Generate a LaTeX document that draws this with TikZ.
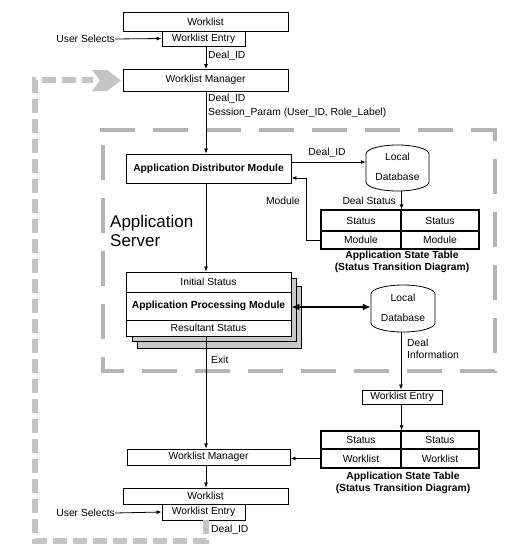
\documentclass[tikz,border=0pt]{standalone}
\usepackage{fontspec}
\setmainfont{Liberation Sans}
\usetikzlibrary{arrows.meta,calc}
\definecolor{dgray}{HTML}{B4B4B4}
\definecolor{lgray}{HTML}{C4C4C4}
\definecolor{sgray}{HTML}{C8C8C8}
\begin{document}
\begin{tikzpicture}[x=1pt,y=-1pt,
  txt/.style={font=\fontsize{10.3}{12}\selectfont, inner sep=0pt},
  btxt/.style={font=\fontsize{10.3}{12}\selectfont\bfseries, inner sep=0pt},
  box/.style={draw, line width=0.9pt, fill=white, inner sep=0pt, font=\fontsize{10.3}{12}\selectfont},
  cell/.style={draw, line width=1.2pt, fill=white, inner sep=0pt, font=\fontsize{10.3}{12}\selectfont},
  arr/.style={line width=0.8pt, -{Latex[length=5pt,width=4pt]}},
  ln/.style={line width=0.8pt},
  dbshape/.style={draw, line width=0.8pt, fill=white}
]
\useasboundingbox (0,0) rectangle (511,551);
\coordinate (xl) at (206,0);

% application server dashed frame
\draw[dgray, line width=4pt, dash pattern=on 35pt off 18pt] (100,130) -- (495,130) -- (495,371) -- (103,371) -- (103,130);

% top worklist
\node[box, minimum width=165, minimum height=19] (wl1) at (205.5,21.5) {Worklist};
\node[box, minimum width=83, minimum height=15] (we1) at (203.5,38.5) {Worklist Entry};
\node[txt, anchor=east] (us1) at (115,39) {User Selects};
\draw[arr] (us1.east) -- (we1.west);
\draw[arr] (we1.south -| xl) -- (206,69);
\node[txt, anchor=west] (did1) at (208,56) {Deal\_ID};

\node[box, minimum width=165, minimum height=22] (wm1) at (205.5,80) {Worklist Manager};
\node[txt, anchor=west] (did2) at (208,99) {Deal\_ID};
\node[txt, anchor=west] (sp) at (208,113) {Session\_Param (User\_ID, Role\_Label)};

% ADM
\node[box, font=\fontsize{10.3}{12}\selectfont\bfseries, minimum width=165, minimum height=29] (adm) at (208.5,168.5) {Application Distributor Module};
\draw[arr] (wm1.south -| xl) -- (adm.north -| xl);

% DB1
\node[minimum width=63, minimum height=46, inner sep=0pt] (db1) at (397.5,168) {};
\draw[dbshape] (366,154) arc[start angle=180, end angle=360, x radius=31.5, y radius=9] -- (429,182) arc[start angle=0, end angle=180, x radius=31.5, y radius=9] -- cycle;
\node[txt] at (397.5,157) {Local};
\node[txt] at (397.5,177) {Database};

\draw[arr] ([yshift=6.5pt]adm.east) -- ([yshift=6.5pt]adm.east -| db1.west);
\node[txt] (did3) at (327,153) {Deal\_ID};

% Table 1
\node[cell, minimum width=80, minimum height=21] (t1a) at (361,220.5) {Status};
\node[cell, minimum width=78, minimum height=21] (t1b) at (440,220.5) {Status};
\node[cell, minimum width=80, minimum height=18] (t1c) at (361,240) {Module};
\node[cell, minimum width=78, minimum height=18] (t1d) at (440,240) {Module};
\draw[arr] (db1.south -| t1a.north east) -- (t1a.north east);
\node[txt, anchor=east] (dst) at (396,201) {Deal Status};
\node[btxt] (cap1a) at (402,256) {Application State Table};
\node[btxt] (cap1b) at (402,268) {(Status Transition Diagram)};

\coordinate (mx) at (306,178);
\draw[arr] (t1c.west) -| (mx) -- ([yshift=-9.5pt]adm.east);
\node[txt] (modl) at (283,201) {Module};

% Application Server label
\node[txt, font=\fontsize{17}{20}\selectfont, anchor=west] (as1) at (110,223) {Application};
\node[txt, font=\fontsize{17}{20}\selectfont, anchor=west] (as2) at (110,241) {Server};

% APM stack
\draw[line width=0.9pt, fill=sgray] (137,286) rectangle (301,348);
\draw[line width=0.9pt, fill=sgray] (132,278) rectangle (296,341);
\node[box, minimum width=165, minimum height=20] (ini) at (208.5,282) {Initial Status};
\node[box, font=\fontsize{10.3}{12}\selectfont\bfseries, minimum width=165, minimum height=28] (apm) at (208.5,306) {Application Processing Module};
\node[box, minimum width=165, minimum height=16] (res) at (208.5,328) {Resultant Status};
\draw[arr] (adm.south -| xl) -- (ini.north -| xl);

% DB2
\node[minimum width=64, minimum height=47, inner sep=0pt] (db2) at (403,308.5) {};
\draw[dbshape] (371,294) arc[start angle=180, end angle=360, x radius=32, y radius=9] -- (435,323) arc[start angle=0, end angle=180, x radius=32, y radius=9] -- cycle;
\node[txt] at (403,298) {Local};
\node[txt] at (403,318) {Database};
\draw[line width=2.4pt, {Latex[length=8pt,width=7pt]}-{Latex[length=8pt,width=7pt]}] ([yshift=-1pt]apm.east) -- ([yshift=-1pt]apm.east -| db2.west);

\node[txt, anchor=west] (exit) at (211,360) {Exit};
\node[txt, anchor=west] (dinf1) at (407,343) {Deal};
\node[txt, anchor=west] (dinf2) at (407,355) {Information};

% right worklist entry
\node[box, minimum width=80, minimum height=14] (we3) at (402,397) {Worklist Entry};
\draw[arr] (db2.south -| 401,0) -- (we3.north -| 401,0);

% Table 2
\node[cell, minimum width=80, minimum height=18] (t2a) at (361,440) {Status};
\node[cell, minimum width=78, minimum height=18] (t2b) at (440,440) {Status};
\node[cell, minimum width=80, minimum height=19] (t2c) at (361,458.5) {Worklist};
\node[cell, minimum width=78, minimum height=19] (t2d) at (440,458.5) {Worklist};
\draw[arr] (we3.south -| t2a.north east) -- (t2a.north east);
\node[btxt] (cap2a) at (403,477) {Application State Table};
\node[btxt] (cap2b) at (403,489) {(Status Transition Diagram)};

% WM2
\node[box, minimum width=163, minimum height=16] (wm2) at (208.5,457) {Worklist Manager};
\draw[arr] (res.south -| xl) -- (wm2.north -| xl);
\draw[arr] (t2c.west) -- (t2c.west -| wm2.east);

\node[box, minimum width=165, minimum height=16] (wl2) at (205.5,496) {Worklist};
\node[box, minimum width=83, minimum height=16] (we2) at (203.5,512) {Worklist Entry};
\draw[arr] (wm2.south -| xl) -- (wl2.north -| xl);
\node[txt, anchor=east] (us2) at (115,513) {User Selects};
\draw[arr] (us2.east) -- (we2.west);
\node[txt, anchor=west] (did4) at (211,530) {Deal\_ID};

% gray feedback loop
\draw[lgray, line width=6pt, dash pattern=on 14pt off 6pt] (we2.south -| xl) -- (206,541) -- (35,541) -- (35,80) -- (93,80);
\fill[lgray] (92,70) -- (107,70) -- (121,80.5) -- (107,91) -- (92,91) -- (100,80.5) -- cycle;
\end{tikzpicture}
\end{document}
